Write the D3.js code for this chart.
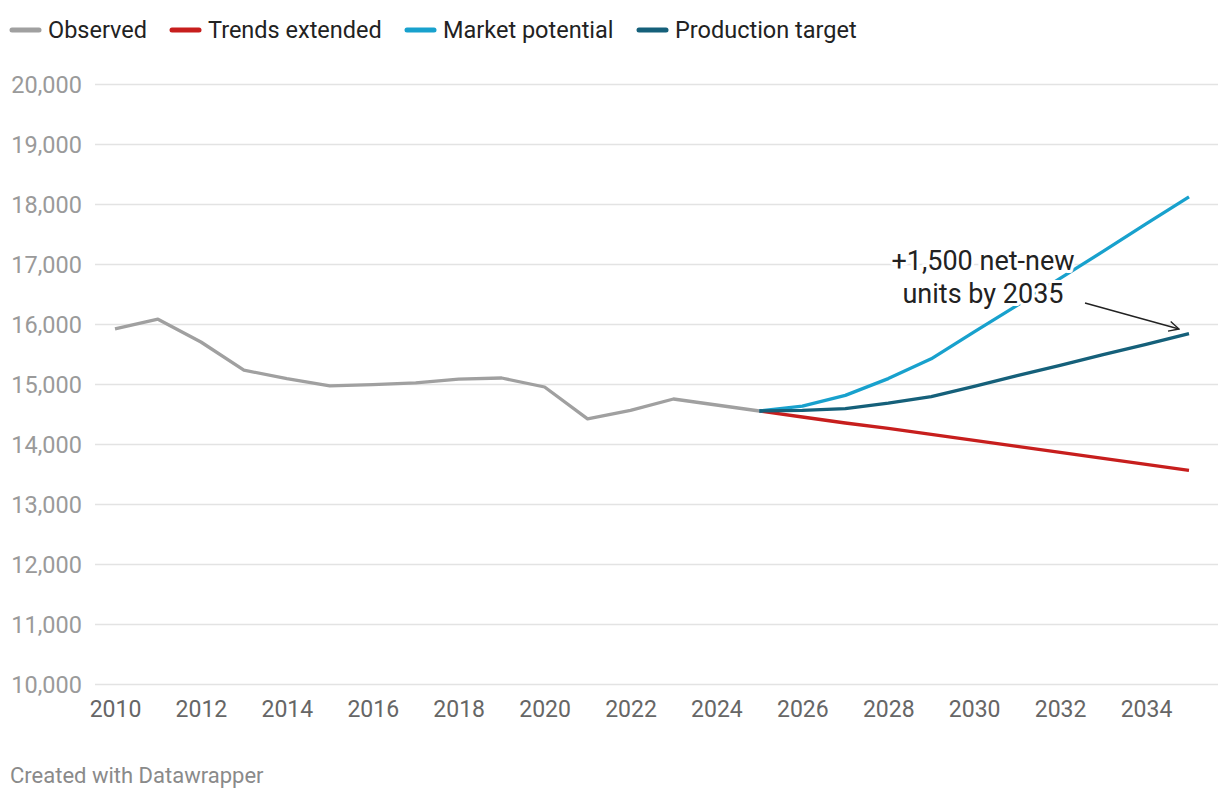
<!DOCTYPE html>
<html>
<head>
<meta charset="utf-8">
<script src="https://cdn.jsdelivr.net/npm/d3@7"></script>
<style>
  body { margin: 0; background: #fff; font-family: Roboto, sans-serif; }
  svg text { font-family: Roboto, sans-serif; }
</style>
</head>
<body>
<div id="chart"></div>
<script>
// data
var obsYears = [2010, 2011, 2012, 2013, 2014, 2015, 2016, 2017, 2018, 2019, 2020, 2021, 2022, 2023, 2024, 2025];
var observed = [15920, 16080, 15700, 15230, 15090, 14970, 14990, 15020, 15080, 15100, 14950, 14420, 14560, 14750, 14650, 14550];

var projYears = [2025, 2026, 2027, 2028, 2029, 2030, 2031, 2032, 2033, 2034, 2035];
var trendsExtended = [14550, 14450, 14350, 14260, 14160, 14060, 13960, 13860, 13760, 13660, 13560];
var marketPotential = [14550, 14630, 14810, 15090, 15420, 15870, 16310, 16760, 17210, 17670, 18120];
var productionTarget = [14550, 14560, 14590, 14680, 14790, 14960, 15140, 15310, 15490, 15660, 15840];

var yTicks = [10000, 11000, 12000, 13000, 14000, 15000, 16000, 17000, 18000, 19000, 20000];
var xTicks = [2010, 2012, 2014, 2016, 2018, 2020, 2022, 2024, 2026, 2028, 2030, 2032, 2034];

var seriesNames = ['Observed', 'Trends extended', 'Market potential', 'Production target'];
var seriesColors = ['#a0a0a0', '#c71e1d', '#18a1cd', '#15607a'];

var W = 1220, H = 800;
var gridLeft = 95, gridRight = 1218;

var svg = d3.select('#chart').append('svg').attr('width', W).attr('height', H);

var x = d3.scaleLinear().domain([2010, 2035]).range([115, 1189]);
var y = d3.scaleLinear().domain([10000, 20000]).range([684, 84]);

// y axis + gridlines
var yAxis = svg.append('g')
  .attr('transform', 'translate(' + gridLeft + ',0)')
  .call(d3.axisLeft(y).tickValues(yTicks).tickSize(-(gridRight - gridLeft)).tickPadding(13).tickFormat(d3.format(',')));
yAxis.select('.domain').remove();
yAxis.selectAll('line').attr('stroke', '#e3e3e3').attr('stroke-width', 1.3);
yAxis.selectAll('text').attr('fill', '#9a9a9a').attr('font-size', 23.5).attr('dy', '0.35em');

// x axis
var xAxis = svg.append('g')
  .attr('transform', 'translate(0,' + 700 + ')')
  .call(d3.axisBottom(x).tickValues(xTicks).tickSize(0).tickPadding(0).tickFormat(d3.format('d')));
xAxis.select('.domain').remove();
xAxis.selectAll('text').attr('fill', '#666').attr('font-size', 23).attr('dy', '0.72em');

var line = d3.line().x(function(d) { return x(d[0]); }).y(function(d) { return y(d[1]); });
function pairs(xs, vs) { return xs.map(function(v, i) { return [v, vs[i]]; }); }

var seriesData = [
  pairs(obsYears, observed),
  pairs(projYears, trendsExtended),
  pairs(projYears, marketPotential),
  pairs(projYears, productionTarget)
];

seriesData.forEach(function(d, i) {
  svg.append('path')
    .attr('d', line(d))
    .attr('fill', 'none')
    .attr('stroke', seriesColors[i])
    .attr('stroke-width', 3.3)
    .attr('stroke-linejoin', 'round')
    .attr('stroke-linecap', 'butt');
});

// legend
var legendX = [12, 172, 407, 639];
seriesNames.forEach(function(name, i) {
  var g = svg.append('g').attr('transform', 'translate(' + legendX[i] + ',30)');
  g.append('line').attr('x1', 0).attr('x2', 27).attr('y1', 0).attr('y2', 0)
    .attr('stroke', seriesColors[i]).attr('stroke-width', 5).attr('stroke-linecap', 'round');
  g.append('text').attr('x', 36).attr('y', 0).attr('dy', '0.35em')
    .attr('font-size', 23.5).attr('fill', '#222').text(name);
});

// annotation
var defs = svg.append('defs');
defs.append('marker').attr('id', 'arrow')
  .attr('viewBox', '0 0 12 12').attr('refX', 11).attr('refY', 6)
  .attr('markerWidth', 12).attr('markerHeight', 12).attr('markerUnits', 'userSpaceOnUse')
  .attr('orient', 'auto')
  .append('path').attr('d', 'M1,1 L11,6 L1,11').attr('fill', 'none').attr('stroke', '#222').attr('stroke-width', 1.4);

var note = svg.append('text')
  .attr('x', 983).attr('y', 270).attr('text-anchor', 'middle')
  .attr('font-size', 27).attr('fill', '#222')
  .attr('stroke', '#fff').attr('stroke-width', 6).attr('paint-order', 'stroke').attr('stroke-linejoin', 'round');
note.append('tspan').attr('x', 983).text('+1,500 net-new');
note.append('tspan').attr('x', 983).attr('dy', 33).text('units by 2035');

svg.append('line')
  .attr('x1', 1085).attr('y1', 303).attr('x2', 1179).attr('y2', 329)
  .attr('stroke', '#222').attr('stroke-width', 1.4).attr('marker-end', 'url(#arrow)');

// credit
svg.append('text').attr('x', 10).attr('y', 783).attr('font-size', 22).attr('fill', '#8a8a8a')
  .text('Created with Datawrapper');
</script>
</body>
</html>
